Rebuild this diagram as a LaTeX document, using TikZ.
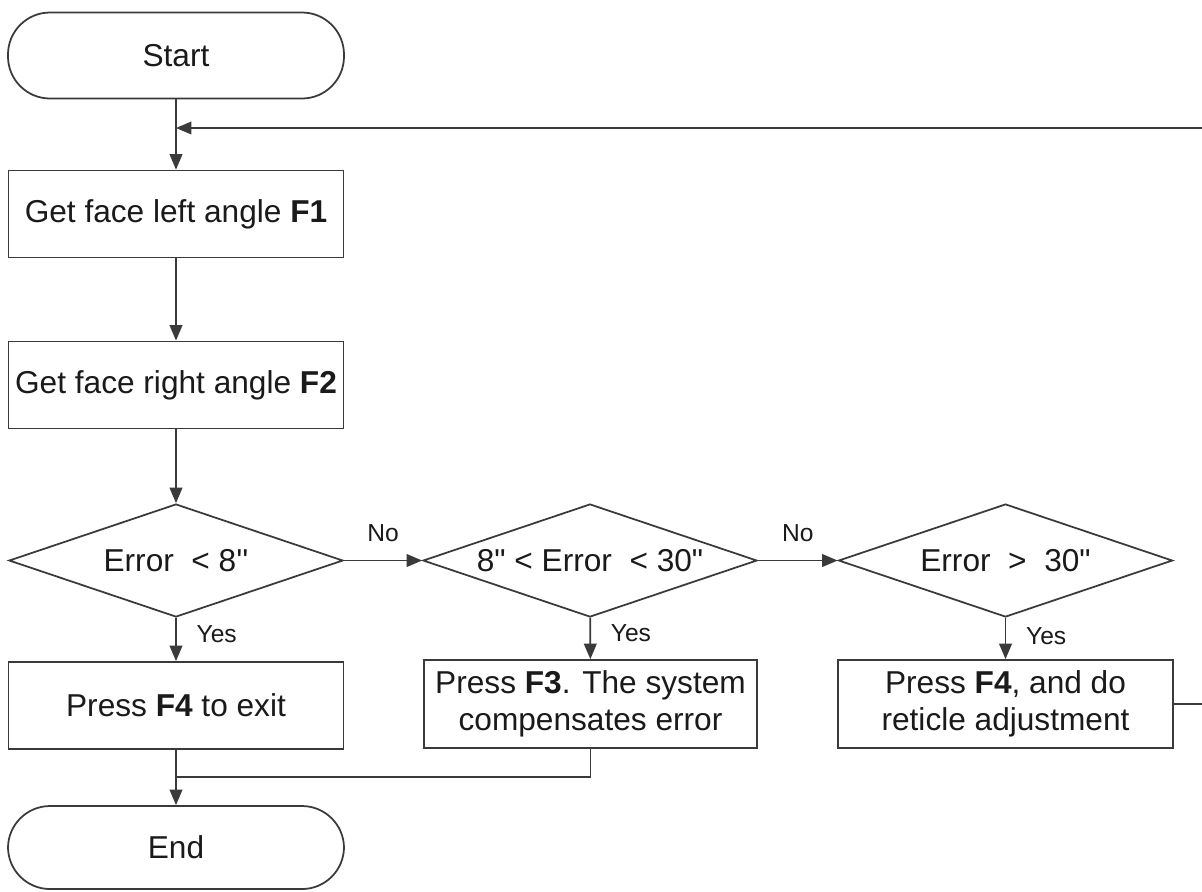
\documentclass[tikz,border=0pt]{standalone}
\usepackage{fontspec}
\setmainfont{Liberation Sans}[Ligatures=TeXOff]
\usetikzlibrary{shapes.geometric,arrows.meta}

\definecolor{tratto}{HTML}{3A3A3A}
\definecolor{testo}{HTML}{1A1A1A}

\tikzset{
  base/.style={draw=tratto, line width=0.5pt, fill=white, text=testo,
    font=\fontsize{9}{10.5}\selectfont, inner sep=1pt},
  terminale/.style={base, rectangle, rounded corners=0.42cm,
    minimum width=3.36cm, minimum height=0.86cm},
  blocco/.style={base, rectangle, align=center,
    minimum width=3.35cm, minimum height=0.87cm},
  decisione/.style={base, diamond, aspect=2.95, inner sep=0pt,
    minimum width=3.34cm, minimum height=1.13cm},
  linea/.style={draw=tratto, line width=0.5pt},
  freccia/.style={linea, -{Triangle[length=4.4pt,width=3.6pt]}},
  etichetta/.style={font=\fontsize{7}{8}\selectfont, text=testo}
}

\begin{document}
\begin{tikzpicture}
    \useasboundingbox (0,0) rectangle (12.02,-8.91);
    % Inizio
    \node[terminale] (inizio) at (1.76,-0.555) {Start};
    % Letture
    \node[blocco] (f1) at (1.76,-2.14) {Get face left angle \textbf{F1}};
    \node[blocco] (f2) at (1.76,-3.85) {Get face right angle \textbf{F2}};
    % Decisioni
    \node[decisione] (d1) at (1.76,-5.605) {Error\ \ < 8''};
    \node[decisione] (d2) at (5.90,-5.605) {8" < Error\ \ < 30"};
    \node[decisione] (d3) at (10.055,-5.605) {Error\ \ >\ \ 30"};
    % Azioni
    \node[blocco] (b1) at (1.76,-7.055) {Press \textbf{F4} to exit};
    \node[blocco, minimum width=3.33cm, minimum height=0.88cm] (b2) at (5.905,-7.04)
        {Press \textbf{F3}. The system\\compensates error};
    \node[blocco, minimum width=3.35cm, minimum height=0.88cm] (b3) at (10.055,-7.04)
        {Press \textbf{F4}, and do\\reticle adjustment};
    % Fine
    \node[terminale, minimum height=0.83cm] (fine) at (1.76,-8.475) {End};
    % Punti di raccordo
    \coordinate (rientro) at (1.76,-1.28);
    \coordinate (bordo) at (12.02,-1.28);
    \coordinate (unione) at (1.76,-7.77);

    % Flusso principale
    \draw[freccia] (inizio) -- (f1);
    \draw[freccia] (bordo) -- (rientro);
    \draw[freccia] (f1) -- (f2);
    \draw[freccia] (f2) -- (d1);
    \draw[freccia] (d1) -- node[etichetta, above=0.06cm] {No} (d2);
    \draw[freccia] (d2) -- node[etichetta, above=0.06cm] {No} (d3);
    \draw[freccia] (d1) -- node[etichetta, right=0.08cm, yshift=0.05cm] {Yes} (b1);
    \draw[freccia] (d2) -- node[etichetta, right=0.08cm, yshift=0.05cm] {Yes} (b2);
    \draw[freccia] (d3) -- node[etichetta, right=0.08cm, yshift=0.02cm] {Yes} (b3);
    % Uscita e ritorno
    \draw[freccia] (b1) -- (fine);
    \draw[linea] (b2.south) |- (unione);
    \draw[linea] (b3.east) -- (b3.east -| bordo);
\end{tikzpicture}
\end{document}
